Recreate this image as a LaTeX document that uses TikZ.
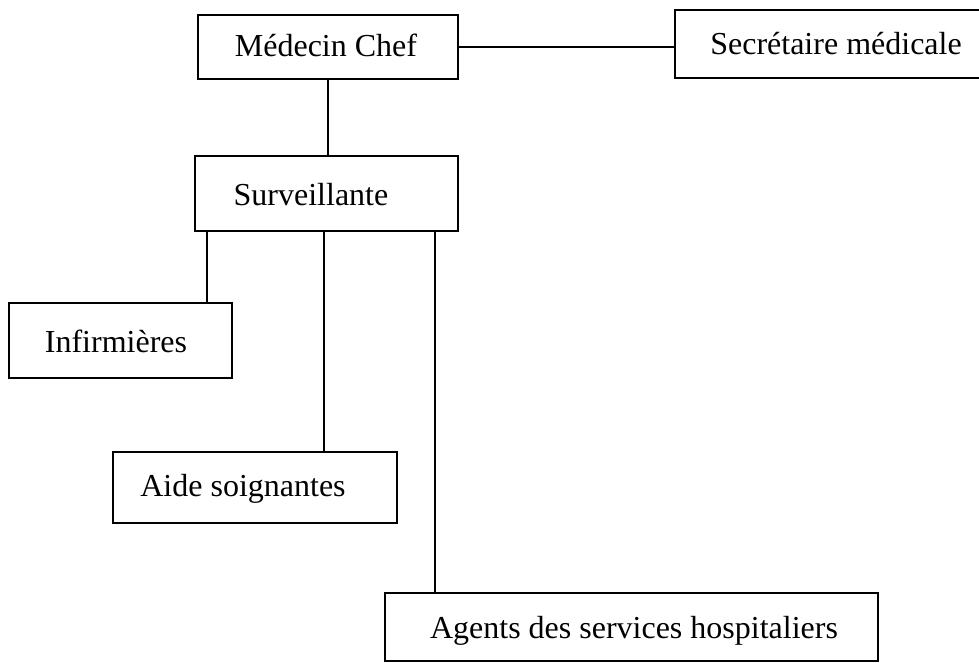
\documentclass[tikz,border=0pt]{standalone}
\usepackage{fontspec}
\setmainfont{Liberation Serif}
\begin{document}
\begin{tikzpicture}[x=1pt,y=-1pt,
  box/.style={draw, line width=1.4pt, inner sep=0pt, fill=none},
  lbl/.style={anchor=base, inner sep=0pt, font=\fontsize{32}{38}\selectfont},
  link/.style={line width=1.4pt}]
\useasboundingbox (0,0) rectangle (979,663);
% boxes
\node[box, minimum width=260pt, minimum height=64pt] (med) at (328,47) {};
\node[box, minimum width=314pt, minimum height=68pt] (sec) at (832,44) {};
\node[box, minimum width=263pt, minimum height=75pt] (sur) at (326.5,193.5) {};
\node[box, minimum width=223pt, minimum height=75pt] (inf) at (120.5,340.5) {};
\node[box, minimum width=284pt, minimum height=71pt] (aide) at (255,487.5) {};
\node[box, minimum width=493pt, minimum height=68pt] (agt) at (631.5,627) {};
% labels
\node[lbl] (medT) at (326,57) {Médecin Chef};
\node[lbl] (secT) at (836,55) {Secrétaire médicale};
\node[lbl] (surT) at (311,205) {Surveillante};
\node[lbl] (infT) at (116,352) {Infirmières};
\node[lbl] (aideT) at (243,496) {Aide soignantes};
\node[lbl] (agtT) at (634,638) {Agents des services hospitaliers};
% connectors
\coordinate (c1) at (207,0);
\coordinate (c2) at (324,0);
\coordinate (c3) at (435,0);
\draw[link] (med.east) -- (med.east -| sec.west);
\draw[link] (med.south) -- (med.south |- sur.north);
\draw[link] (sur.south -| c1) -- (inf.north -| c1);
\draw[link] (sur.south -| c2) -- (aide.north -| c2);
\draw[link] (sur.south -| c3) -- (agt.north -| c3);
\end{tikzpicture}
\end{document}
